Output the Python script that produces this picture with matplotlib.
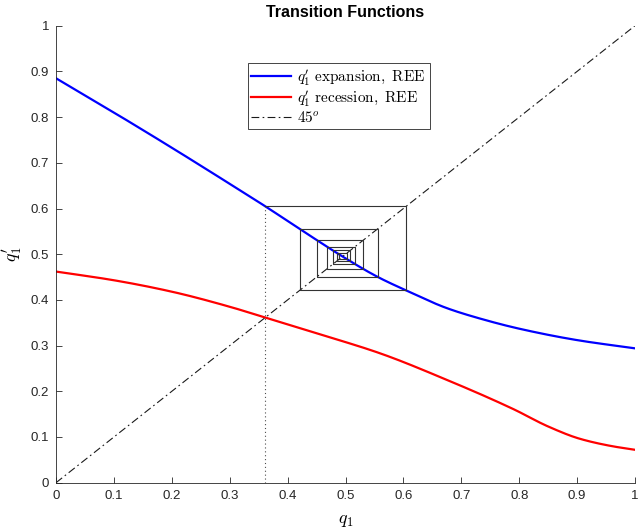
import numpy as np
import matplotlib
matplotlib.use('Agg')
from matplotlib import pyplot as plt

plt.rcParams['font.family'] = 'Liberation Sans'
plt.rcParams['mathtext.fontset'] = 'cm'

#%%# transition functions #%%#
qGrid  = [0.0, 0.1, 0.2, 0.3, 0.36, 0.42, 0.5, 0.556, 0.606, 0.675, 0.73, 0.8, 0.9, 1.0]
qExp   = [0.885, 0.810, 0.733, 0.654, 0.606, 0.556, 0.491, 0.450, 0.420, 0.382, 0.360, 0.337, 0.312, 0.294]
qGridR = [0.0, 0.1, 0.2, 0.3, 0.361, 0.45, 0.56, 0.675, 0.79, 0.85, 0.905, 0.96, 1.0]
qRec   = [0.462, 0.443, 0.418, 0.385, 0.3615, 0.327, 0.283, 0.225, 0.161, 0.123, 0.096, 0.080, 0.072]
nIter = 12

#%%# helper functions #%%#
def pchip(xk, yk):
    # monotone piecewise cubic Hermite interpolant (Fritsch-Carlson slopes)
    xk = np.asarray(xk, float)
    yk = np.asarray(yk, float)
    h = np.diff(xk)
    d = np.diff(yk)/h
    m = np.zeros(len(xk))
    for i in range(1, len(xk)-1):
        if d[i-1]*d[i] > 0:
            w1 = 2*h[i] + h[i-1]
            w2 = h[i] + 2*h[i-1]
            m[i] = (w1 + w2)/(w1/d[i-1] + w2/d[i])
    m[0] = d[0]
    m[-1] = d[-1]

    def f(x):
        x = np.asarray(x, float)
        j = np.clip(np.searchsorted(xk, x) - 1, 0, len(xk)-2)
        t = (x - xk[j])/h[j]
        h00 = 2*t**3 - 3*t**2 + 1
        h10 = t**3 - 2*t**2 + t
        h01 = -2*t**3 + 3*t**2
        h11 = t**3 - t**2
        return h00*yk[j] + h10*h[j]*m[j] + h01*yk[j+1] + h11*h[j]*m[j+1]
    return f

fExp = pchip(qGrid, qExp)
fRec = pchip(qGridR, qRec)
xx = np.linspace(0, 1, 801)

# fixed point of the recession map = starting point of the cobweb
iCross = np.argmin(np.abs(fRec(xx) - xx))
q0 = xx[iCross]

# cobweb path through the expansion map
cx = [q0]
cy = [float(fExp(q0))]
q = q0
for i in range(nIter):
    qn = float(fExp(q))
    cx += [qn, qn]
    cy += [qn, float(fExp(qn))]
    q = qn

#%%# plot #%%#
fig = plt.figure(figsize=(6.38, 5.28), dpi=100)
ax = fig.add_axes([0.0878, 0.0858, 0.9075, 0.8655])

hE, = ax.plot(xx, fExp(xx), color=(0, 0, 1), lw=1.6, label=r"$q_1^{\prime}\ \mathrm{expansion,\ REE}$")
hR, = ax.plot(xx, fRec(xx), color=(1, 0, 0), lw=1.6, label=r"$q_1^{\prime}\ \mathrm{recession,\ REE}$")
hD, = ax.plot([0, 1], [0, 1], color='0.1', lw=0.8, ls=(0, (7, 3, 1.5, 3)), label=r"$45^o$")
ax.plot([q0, q0], [0, float(fExp(q0))], color='0.3', lw=0.8, ls=(0, (1, 2.5)))
ax.plot(cx, cy, color='0.2', lw=0.8)

ax.set_xlim(0, 1)
ax.set_ylim(0, 1)
ax.set_xticks(np.arange(0, 1.01, 0.1))
ax.set_yticks(np.arange(0, 1.01, 0.1))
ax.set_xticklabels(['0', '0.1', '0.2', '0.3', '0.4', '0.5', '0.6', '0.7', '0.8', '0.9', '1'])
ax.set_yticklabels(['0', '0.1', '0.2', '0.3', '0.4', '0.5', '0.6', '0.7', '0.8', '0.9', '1'])
ax.tick_params(direction='in', length=4, width=0.6, colors='0.15', labelsize=9.5, pad=5)
for s in ['top', 'right']:
    ax.spines[s].set_visible(False)
for s in ['left', 'bottom']:
    ax.spines[s].set_color('0.15')
    ax.spines[s].set_linewidth(0.6)

ax.set_xlabel(r'$q_1$', fontsize=13)
ax.set_ylabel(r'$q_1^{\prime}$', fontsize=13)
ax.xaxis.set_label_coords(0.5, -0.065)
ax.yaxis.set_label_coords(-0.055, 0.5)
ax.set_title('Transition Functions', fontsize=11.5, fontweight='bold', pad=6)

leg = ax.legend(handles=[hE, hR, hD], loc='upper left', bbox_to_anchor=(0.331, 0.918),
                fontsize=11, fancybox=False, framealpha=1, edgecolor='0.15',
                borderpad=0.25, labelspacing=0.1, handlelength=2.6, handletextpad=0.4,
                borderaxespad=0)
leg.get_frame().set_linewidth(0.6)

plt.savefig('out.png', dpi=100)
